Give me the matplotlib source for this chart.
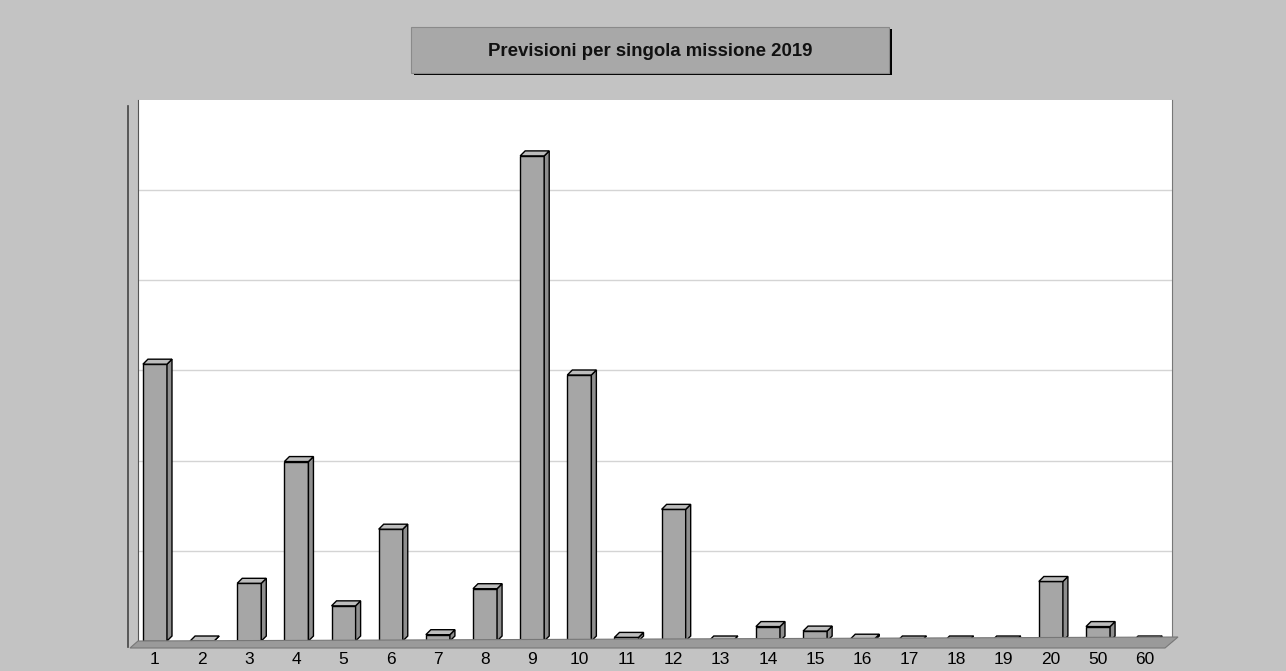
import matplotlib.pyplot as plt
from matplotlib.patches import Polygon, Rectangle

categories = ['1', '2', '3', '4', '5', '6', '7', '8', '9', '10', '11', '12',
              '13', '14', '15', '16', '17', '18', '19', '20', '50', '60']
values = [30.7, 0, 6.4, 19.9, 3.9, 12.4, 0.7, 5.8, 53.8, 29.5, 0.4, 14.6,
          0, 1.6, 1.1, 0.2, 0, 0, 0, 6.6, 1.6, 0]
title = 'Previsioni per singola missione 2019'

plt.rcParams['font.family'] = ['Liberation Sans', 'DejaVu Sans']

bg = '#c3c3c3'
bar_col = '#a6a6a6'
fig = plt.figure(figsize=(12.86, 6.71), dpi=100, facecolor=bg)
ax = fig.add_axes([0.1073, 0.0447, 0.8041, 0.8063])
ax.set_facecolor('white')

ax.set_xlim(-0.36, len(categories) - 1 + 0.57)
ax.set_ylim(0, 60)
ax.set_yticks([10, 20, 30, 40, 50])
ax.set_yticklabels([])
ax.tick_params(axis='y', length=0)
ax.grid(axis='y', color='#d4d4d4', linewidth=1)
ax.set_axisbelow(True)

x = list(range(len(categories)))
w = 0.51
ax.bar(x, values, width=w, color=bar_col, edgecolor='black', linewidth=1, zorder=3)

# 3D side/top faces (pixel depth converted to data units)
dx = 5 / 47.14
dy = 5 / 9.03
for xi, v in zip(x, values):
    l, r = xi - w / 2, xi + w / 2
    top = Polygon([(l, v), (l + dx, v + dy), (r + dx, v + dy), (r, v)],
                  closed=True, facecolor='#bdbdbd', edgecolor='black', lw=1, zorder=3)
    side = Polygon([(r, 0), (r, v), (r + dx, v + dy), (r + dx, dy)],
                   closed=True, facecolor='#8e8e8e', edgecolor='black', lw=1, zorder=3)
    ax.add_patch(side)
    ax.add_patch(top)

ax.set_xticks(x)
ax.set_xticklabels(categories, fontsize=12.5)
ax.tick_params(axis='x', length=0, pad=8)

for s in ['top', 'bottom']:
    ax.spines[s].set_visible(False)
ax.spines['left'].set_color('#555555')
ax.spines['right'].set_color('#777777')

# floor and left wall
W, H = 1286, 671
floor = Polygon([(130 / W, 1 - 648 / H), (1165 / W, 1 - 648 / H),
                 (1178 / W, 1 - 637 / H), (138 / W, 1 - 641 / H)],
                closed=True, transform=fig.transFigure, facecolor='#9a9a9a',
                edgecolor='#777777', lw=0.8, zorder=1)
fig.patches.append(floor)
fig.add_artist(plt.Line2D([128 / W, 128 / W], [1 - 106 / H, 1 - 647 / H],
                          transform=fig.transFigure, color='#444444', lw=1.2))

# title box with shadow
fig.patches.append(Rectangle((414 / W, 1 - 75 / H), 478 / W, 46 / H,
                             transform=fig.transFigure, facecolor='black', zorder=1))
fig.patches.append(Rectangle((411 / W, 1 - 73 / H), 478 / W, 46 / H,
                             transform=fig.transFigure, facecolor='#a8a8a8',
                             edgecolor='#8a8a8a', lw=0.8, zorder=2))
fig.text(650 / W, 1 - 52 / H, title, ha='center', va='center',
         fontsize=13.4, fontweight='bold', color='#111111')

fig.savefig('out.png', dpi=100, facecolor=bg)
